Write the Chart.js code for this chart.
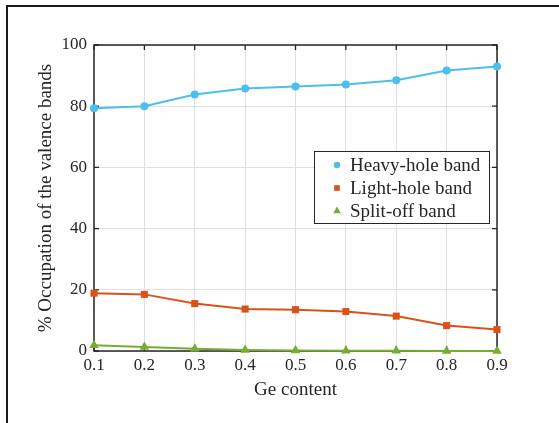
<!DOCTYPE html>
<html><head><meta charset="utf-8">
<script src="https://cdn.jsdelivr.net/npm/chart.js@4.4.0/dist/chart.umd.min.js"></script>
<style>
html,body{margin:0;padding:0;background:#fff;}
#wrap{position:relative;width:559px;height:423px;overflow:hidden;}
#frame{position:absolute;left:6px;top:5px;width:600px;height:600px;border-left:2px solid #1a1a1a;border-top:2px solid #1a1a1a;}
canvas{position:absolute;left:0;top:0;}
</style></head><body>
<div id="wrap"><div id="frame"></div><canvas id="c" width="559" height="423"></canvas></div>
<script>
const geContent = [0.1, 0.2, 0.3, 0.4, 0.5, 0.6, 0.7, 0.8, 0.9];
const heavyHole = [79.3, 80.0, 83.8, 85.8, 86.4, 87.1, 88.5, 91.7, 93.0];
const lightHole = [18.9, 18.5, 15.5, 13.7, 13.5, 12.9, 11.4, 8.3, 7.0];
const splitOff = [1.9, 1.3, 0.7, 0.35, 0.15, 0.08, 0.05, 0.03, 0.02];
const seriesNames = ['Heavy-hole band', 'Light-hole band', 'Split-off band'];
const xTitle = 'Ge content';
const yTitle = '% Occupation of the valence bands';

const FONT = "'Liberation Serif', 'Times New Roman', serif";
const AXIS = '#262626';
const toPts = arr => arr.map((v, i) => ({x: geContent[i], y: v}));

const frame = {
  id: 'frame',
  beforeDatasetsDraw(chart) {
    const {ctx, chartArea: a, scales: {x, y}} = chart;
    ctx.save();
    ctx.strokeStyle = AXIS;
    ctx.lineWidth = 1.3;
    ctx.beginPath();
    const L = 5;
    x.ticks.forEach(t => {
      const px = x.getPixelForValue(t.value);
      ctx.moveTo(px, a.bottom); ctx.lineTo(px, a.bottom - L);
      ctx.moveTo(px, a.top); ctx.lineTo(px, a.top + L);
    });
    y.ticks.forEach(t => {
      const py = y.getPixelForValue(t.value);
      ctx.moveTo(a.left, py); ctx.lineTo(a.left + L, py);
      ctx.moveTo(a.right, py); ctx.lineTo(a.right - L, py);
    });
    ctx.stroke();
    ctx.lineWidth = 1.5;
    ctx.strokeRect(a.left, a.top, a.right - a.left, a.bottom - a.top);
    ctx.restore();
  },
  afterDraw(chart) {
    const {ctx, chartArea: a} = chart;
    const bx = a.left + 220, by = a.top + 106, bw = 175, bh = 72;
    ctx.save();
    ctx.fillStyle = '#fff';
    ctx.fillRect(bx, by, bw, bh);
    ctx.strokeStyle = AXIS;
    ctx.lineWidth = 1;
    ctx.strokeRect(bx + 0.5, by + 0.5, bw, bh);
    ctx.font = '19px ' + FONT;
    ctx.textBaseline = 'middle';
    ctx.fillStyle = AXIS;
    chart.data.datasets.forEach((ds, i) => {
      const cy = by + 14 + i * 23;
      ctx.fillStyle = ds.pointBackgroundColor;
      ctx.strokeStyle = ds.pointBackgroundColor;
      Chart.helpers.drawPoint(ctx, {pointStyle: ds.pointStyle, radius: ds.pointRadius * 0.8, rotation: 0, borderWidth: 0}, bx + 23, cy);
      ctx.fillStyle = AXIS;
      ctx.fillText(ds.label, bx + 36, cy + 1);
    });
    ctx.restore();
  }
};

const mk = (label, data, color, style, r) => ({
  label, data: toPts(data), borderColor: color, backgroundColor: color,
  pointBackgroundColor: color, pointBorderColor: color, pointBorderWidth: 0,
  pointStyle: style, pointRadius: r, borderWidth: 2, tension: 0, clip: false
});

new Chart(document.getElementById('c'), {
  type: 'line',
  data: {
    datasets: [
      mk(seriesNames[0], heavyHole, '#4DBEEE', 'circle', 4),
      mk(seriesNames[1], lightHole, '#D95319', 'rect', 5),
      mk(seriesNames[2], splitOff, '#77AC30', 'triangle', 5.5)
    ]
  },
  options: {
    responsive: false, animation: false, devicePixelRatio: 1,
    layout: {padding: {left: 0, top: 45, right: 62, bottom: 0}},
    plugins: {legend: {display: false}, tooltip: {enabled: false}},
    scales: {
      x: {
        type: 'linear', min: 0.1, max: 0.9,
        afterFit: s => { s.height = 72; },
        ticks: {stepSize: 0.1, padding: 4, color: AXIS, font: {family: FONT, size: 17},
          callback: v => v.toFixed(1)},
        grid: {color: '#e0e0e0', lineWidth: 1, drawTicks: false},
        border: {display: false},
        title: {display: true, text: xTitle, color: AXIS, font: {family: FONT, size: 19}, padding: {top: 0, bottom: 22}}
      },
      y: {
        type: 'linear', min: 0, max: 100,
        afterFit: s => { s.width = 94; },
        ticks: {stepSize: 20, padding: 7, color: AXIS, font: {family: FONT, size: 17}},
        grid: {color: '#e0e0e0', lineWidth: 1, drawTicks: false},
        border: {display: false},
        title: {display: true, text: yTitle, color: AXIS, font: {family: FONT, size: 19}, padding: {top: 35, bottom: 0}}
      }
    }
  },
  plugins: [frame]
});
</script>
</body></html>
